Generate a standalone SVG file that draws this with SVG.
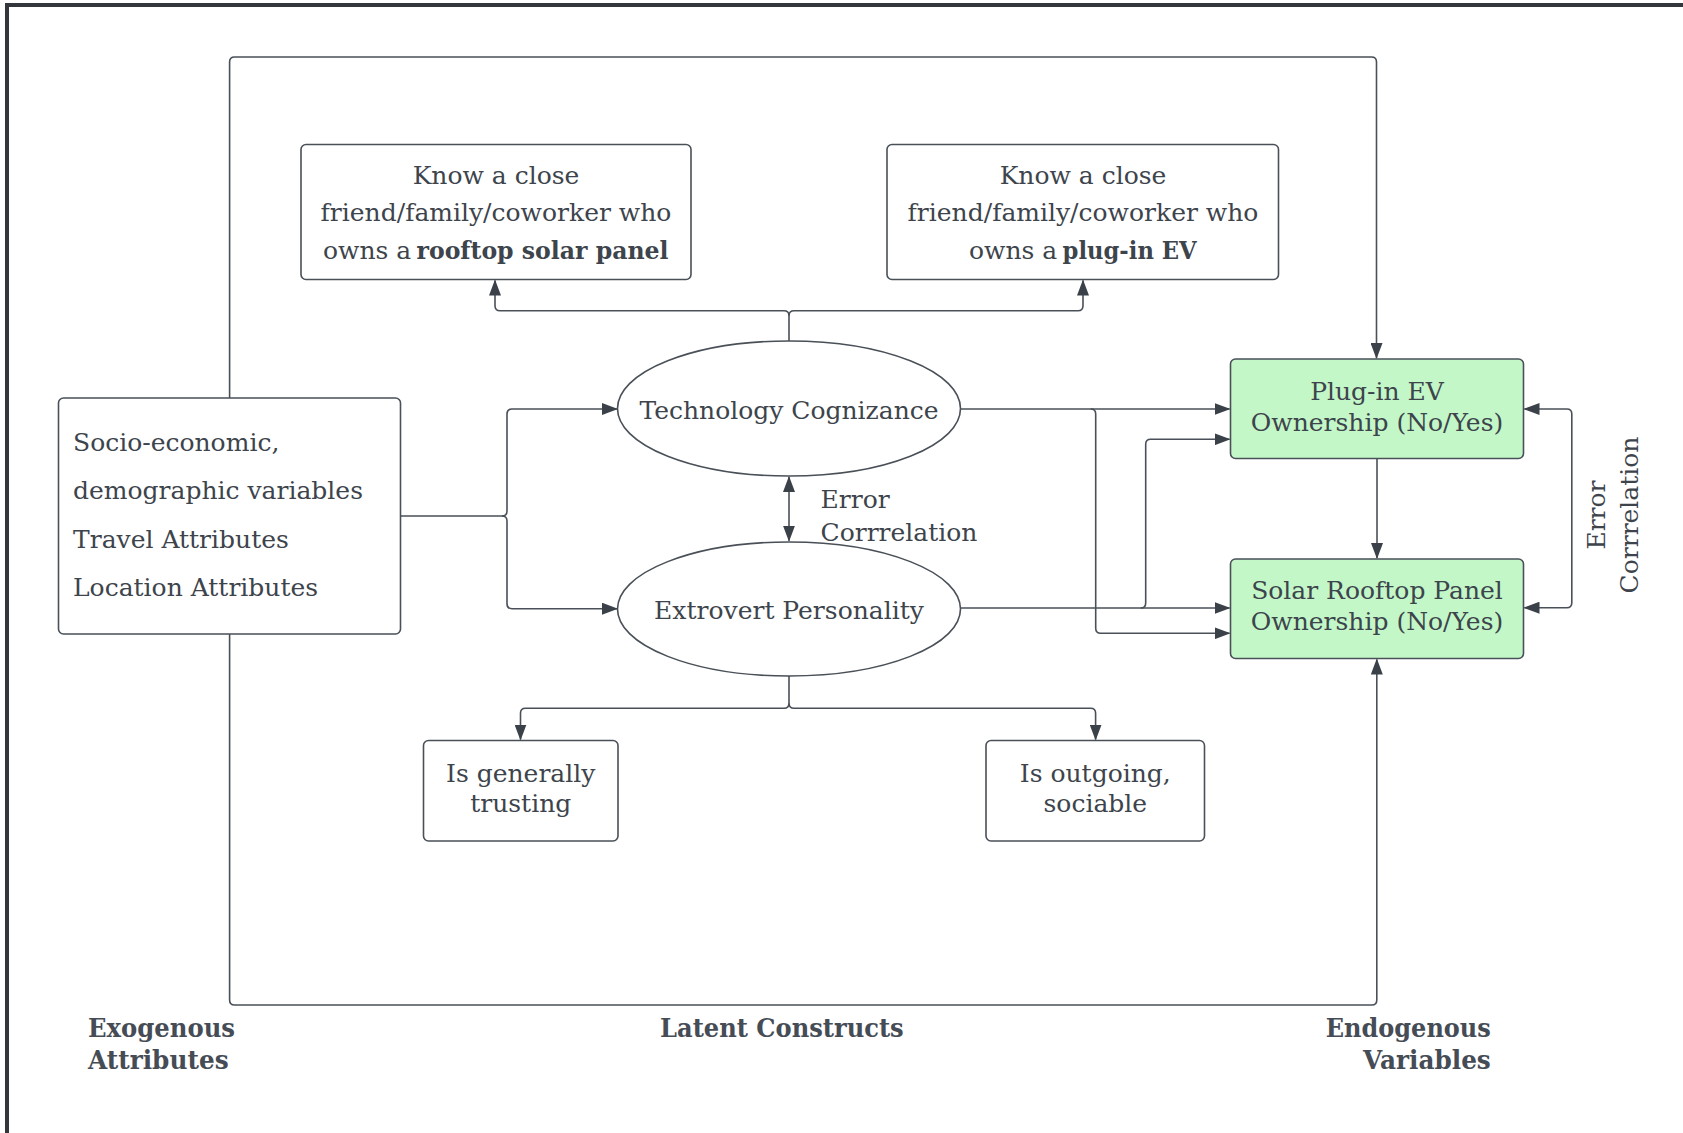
<svg xmlns="http://www.w3.org/2000/svg" width="1683" height="1133" viewBox="0 0 1683 1133">
<defs>
<marker id="ah" viewBox="0 0 16 12" refX="15" refY="6" markerWidth="16" markerHeight="12" markerUnits="userSpaceOnUse" orient="auto-start-reverse">
<path d="M0,0 L16,6 L0,12 z" fill="#3b4149"/>
</marker>
<style>
.box{fill:#ffffff;stroke:#4a5058;stroke-width:1.6}
.green{fill:#c3f7c8;stroke:#4a5058;stroke-width:1.6}
.ell{fill:#ffffff;stroke:#4a5058;stroke-width:1.6}
.con{fill:none;stroke:#4a5058;stroke-width:1.6}
.arr{marker-end:url(#ah)}
.both{marker-start:url(#ah);marker-end:url(#ah)}
text{font-family:"DejaVu Serif","Liberation Serif",serif;font-size:25px;fill:#3d444c}
.c{text-anchor:middle}
.b{font-weight:bold}
.lbl{font-weight:bold;font-size:26px;fill:#454c55}
</style>
</defs>
<rect x="0" y="0" width="1683" height="1133" fill="#ffffff"/>
<g id="frame">
<line x1="5" y1="5" x2="1683" y2="5" stroke="#33373c" stroke-width="4"/>
<line x1="7" y1="3" x2="7" y2="1133" stroke="#33373c" stroke-width="4"/>
</g>
<g id="connectors">
<path class="con arr" d="M229.6,398 V62 q0,-5 5,-5 H1371.5 q5,0 5,5 V358"/>
<path class="con arr" d="M229.6,634 V1000 q0,5 5,5 H1371.8 q5,0 5,-5 V659.5"/>
<path class="con arr" d="M400.5,516 H502 q5,0 5,-5 V414 q0,-5 5,-5 H617"/>
<path class="con arr" d="M502,516 q5,0 5,5 V603.7 q0,5 5,5 H617"/>
<path class="con arr" d="M789,341 V315.7 q0,-5 -5,-5 H500 q-5,0 -5,-5 V280.5"/>
<path class="con arr" d="M789,315.7 q0,-5 5,-5 H1078 q5,0 5,-5 V280.5"/>
<path class="con both" d="M789,477 V540.7"/>
<path class="con arr" d="M960.5,409 H1229.5"/>
<path class="con arr" d="M1090.7,409 q5,0 5,5 V628.3 q0,5 5,5 H1229.5"/>
<path class="con arr" d="M960.5,608 H1229.5"/>
<path class="con arr" d="M1140.7,608 q5,0 5,-5 V444.3 q0,-5 5,-5 H1229.5"/>
<path class="con arr" d="M1377,458.5 V558"/>
<path class="con both" d="M1524.5,409 H1566.8 q5,0 5,5 V602.7 q0,5 -5,5 H1524.5"/>
<path class="con arr" d="M789,676 V703.3 q0,5 -5,5 H525.5 q-5,0 -5,5 V739.5"/>
<path class="con arr" d="M789,703.3 q0,5 5,5 H1090.6 q5,0 5,5 V739.5"/>
</g>
<g id="socio">
<rect class="box" x="58.5" y="398" width="342" height="236" rx="5"/>
<text x="73" y="451">Socio-economic,</text>
<text x="73" y="499.3">demographic variables</text>
<text x="73" y="547.7">Travel Attributes</text>
<text x="73" y="596">Location Attributes</text>
</g>
<g id="know-solar">
<rect class="box" x="301" y="144.5" width="390" height="135" rx="5"/>
<text class="c" x="496" y="183.5">Know a close</text>
<text class="c" x="496" y="221">friend/family/coworker who</text>
<text x="323" y="258.5">owns a</text>
<text class="b" x="416.5" y="258.5" textLength="252" lengthAdjust="spacingAndGlyphs">rooftop solar panel</text>
</g>
<g id="know-ev">
<rect class="box" x="887" y="144.5" width="391.5" height="135" rx="5"/>
<text class="c" x="1083" y="183.5">Know a close</text>
<text class="c" x="1083" y="221">friend/family/coworker who</text>
<text x="969" y="258.5">owns a</text>
<text class="b" x="1062.6" y="258.5" textLength="134" lengthAdjust="spacingAndGlyphs">plug-in EV</text>
</g>
<g id="tech">
<ellipse class="ell" cx="789" cy="408.5" rx="171.5" ry="67.5"/>
<text class="c" x="789" y="419">Technology Cognizance</text>
</g>
<g id="extro">
<ellipse class="ell" cx="789" cy="609" rx="171.5" ry="67"/>
<text class="c" x="789" y="618.5">Extrovert Personality</text>
</g>
<g id="err-label">
<text x="820.5" y="508.3">Error</text>
<text x="820.5" y="540.7">Corrrelation</text>
</g>
<g id="ev">
<rect class="green" x="1230.5" y="359" width="293" height="99.5" rx="5"/>
<text class="c" x="1377" y="400">Plug-in EV</text>
<text class="c" x="1377" y="430.7">Ownership (No/Yes)</text>
</g>
<g id="solar">
<rect class="green" x="1230.5" y="559" width="293" height="99.5" rx="5"/>
<text class="c" x="1377" y="599.3">Solar Rooftop Panel</text>
<text class="c" x="1377" y="630">Ownership (No/Yes)</text>
</g>
<g id="err-label-2">
<text class="c" transform="translate(1605,515) rotate(-90)">Error</text>
<text class="c" transform="translate(1638,515) rotate(-90)">Corrrelation</text>
</g>
<g id="trusting">
<rect class="box" x="423.5" y="740.5" width="194.5" height="100.5" rx="5"/>
<text class="c" x="520.7" y="781.7">Is generally</text>
<text class="c" x="520.7" y="811.7">trusting</text>
</g>
<g id="outgoing">
<rect class="box" x="986" y="740.5" width="218.5" height="100.5" rx="5"/>
<text class="c" x="1095.3" y="781.7">Is outgoing,</text>
<text class="c" x="1095.3" y="811.7">sociable</text>
</g>
<g id="labels">
<text class="lbl" x="88" y="1037" textLength="147" lengthAdjust="spacingAndGlyphs">Exogenous</text>
<text class="lbl" x="88" y="1068.5" textLength="140.6" lengthAdjust="spacingAndGlyphs">Attributes</text>
<text class="lbl" x="660" y="1037" textLength="243.7" lengthAdjust="spacingAndGlyphs">Latent Constructs</text>
<text class="lbl" x="1325.8" y="1037" textLength="165" lengthAdjust="spacingAndGlyphs">Endogenous</text>
<text class="lbl" x="1363.1" y="1068.5" textLength="127.7" lengthAdjust="spacingAndGlyphs">Variables</text>
</g>
</svg>
